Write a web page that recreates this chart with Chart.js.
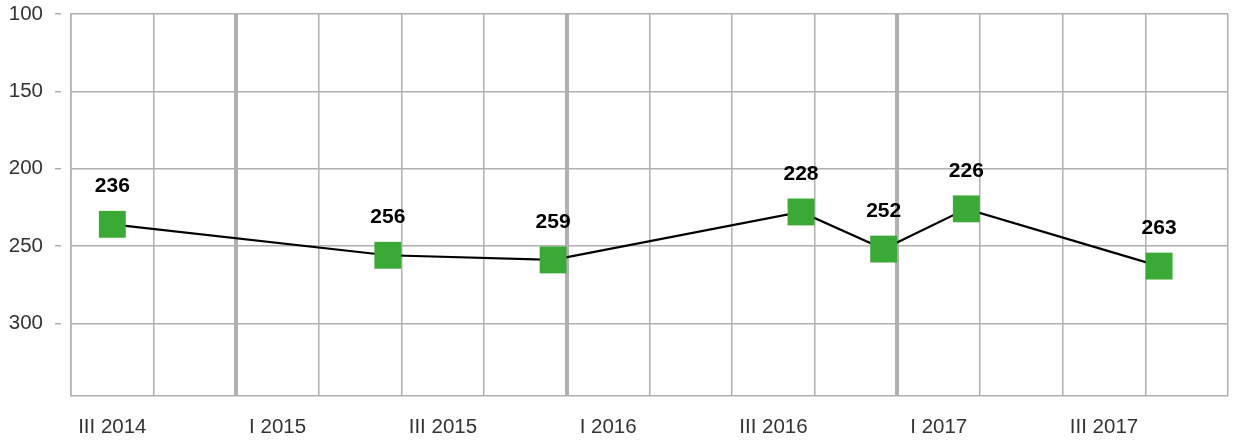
<!DOCTYPE html>
<html>
<head>
<meta charset="utf-8">
<script src="https://cdn.jsdelivr.net/npm/chart.js@4.4.1/dist/chart.umd.min.js"></script>
<style>
  html, body { margin: 0; padding: 0; background: #fff; }
  #wrap { width: 1234px; height: 441px; position: relative; }
</style>
</head>
<body>
<div id="wrap"><canvas id="chart"></canvas></div>
<script>
// quarters on the x axis (only I and III get a label)
const quarterLabels = ['III 2014', 'IV 2014', 'I 2015', 'II 2015', 'III 2015', 'IV 2015', 'I 2016',
  'II 2016', 'III 2016', 'IV 2016', 'I 2017', 'II 2017', 'III 2017', 'IV 2017'];
const shownLabels = ['III 2014', 'I 2015', 'III 2015', 'I 2016', 'III 2016', 'I 2017', 'III 2017'];

// measurements
const pointMonths = ['2014-08', '2015-06', '2015-12', '2016-09', '2016-12', '2017-03', '2017-10'];
const pointValues = [236, 256, 259, 228, 252, 226, 263];

const yTicks = [100, 150, 200, 250, 300];
const yMin = 100;
const yMax = 347;

// months counted from July 2014, a point sits in the middle of its month
function monthPos(s) {
  const [y, m] = s.split('-').map(Number);
  return (y - 2014) * 12 + (m - 7) + 0.5;
}

const xMax = quarterLabels.length * 3;
const labelPos = {};
quarterLabels.forEach((q, i) => {
  if (shownLabels.includes(q)) labelPos[i * 3 + 1.5] = q;
});
const isLabel = v => v in labelPos;

const valueLabels = {
  id: 'valueLabels',
  afterDatasetsDraw(chart) {
    const ctx = chart.ctx;
    const meta = chart.getDatasetMeta(0);
    ctx.save();
    ctx.font = 'bold 21px "Liberation Sans", Arial, sans-serif';
    ctx.fillStyle = '#000';
    ctx.textAlign = 'center';
    ctx.textBaseline = 'middle';
    meta.data.forEach((pt, i) => {
      ctx.fillText(pointValues[i], pt.x, pt.y - 38);
    });
    ctx.restore();
  }
};

Chart.defaults.font.family = '"Liberation Sans", Arial, sans-serif';

new Chart(document.getElementById('chart').getContext('2d'), {
  type: 'line',
  data: {
    datasets: [{
      data: pointMonths.map((d, i) => ({ x: monthPos(d), y: pointValues[i] })),
      borderColor: '#000',
      borderWidth: 2.2,
      tension: 0,
      pointStyle: 'rect',
      pointRadius: 19,
      pointHoverRadius: 19,
      pointBackgroundColor: '#3BA935',
      pointBorderColor: '#3BA935',
      pointBorderWidth: 0
    }]
  },
  options: {
    responsive: true,
    maintainAspectRatio: false,
    animation: false,
    layout: { autoPadding: false, padding: { top: 14, right: 6, left: 0, bottom: 0 } },
    plugins: {
      legend: { display: false },
      tooltip: { enabled: false }
    },
    scales: {
      x: {
        type: 'linear',
        min: 0,
        max: xMax,
        z: 1,
        afterBuildTicks: axis => {
          const vals = [];
          for (let v = 0; v <= xMax; v += 3) vals.push(v);
          Object.keys(labelPos).forEach(k => vals.push(Number(k)));
          vals.sort((a, b) => a - b);
          axis.ticks = vals.map(v => ({ value: v }));
        },
        afterFit: axis => {
          axis.height = 45;
          axis.paddingLeft = 0;
          axis.paddingRight = 0;
        },
        grid: {
          drawTicks: false,
          color: c => (c.tick && isLabel(c.tick.value)) ? 'rgba(0,0,0,0)' : '#b0b0b0',
          lineWidth: c => (c.tick && c.tick.value % 12 === 6 && c.tick.value < xMax) ? 4 : 1.5
        },
        border: { display: true, color: '#b0b0b0', width: 1.5 },
        ticks: {
          autoSkip: false,
          maxRotation: 0,
          padding: 19,
          color: '#333',
          font: { size: 20.5 },
          callback: v => labelPos[v] || ''
        }
      },
      y: {
        type: 'linear',
        reverse: true,
        min: yMin,
        max: yMax,
        afterBuildTicks: axis => { axis.ticks = yTicks.map(v => ({ value: v })); },
        afterFit: axis => {
          axis.width = 71;
          axis.paddingTop = 0;
          axis.paddingBottom = 0;
        },
        grid: {
          color: '#b0b0b0',
          lineWidth: 1.5,
          drawTicks: true,
          tickLength: 16,
          tickColor: '#9a9a9a',
          tickWidth: 1.2,
          tickBorderDash: [6, 40]
        },
        border: { display: true, color: '#b0b0b0', width: 1.5 },
        ticks: {
          padding: 12,
          color: '#333',
          font: { size: 20.5 }
        }
      }
    }
  },
  plugins: [valueLabels]
});
</script>
</body>
</html>
